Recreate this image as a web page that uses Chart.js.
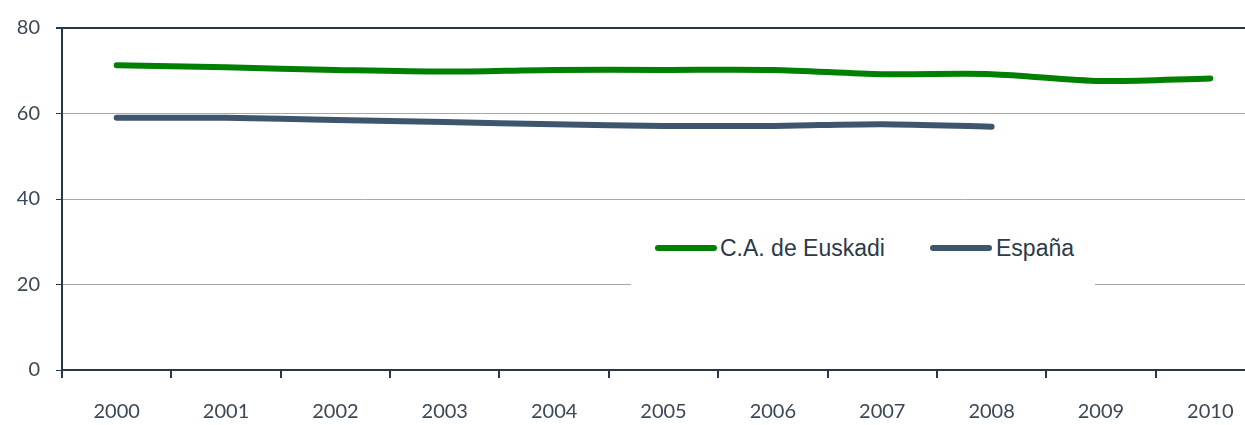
<!DOCTYPE html>
<html>
<head>
<meta charset="utf-8">
<script src="https://cdn.jsdelivr.net/npm/chart.js@4"></script>
<style>
html,body{margin:0;padding:0;background:#fff;overflow:hidden;}
#wrap{position:relative;width:1245px;height:425px;overflow:hidden;}
#box{position:absolute;left:0;top:0;width:1265px;height:425px;}
#legend{position:absolute;left:631px;top:220px;width:464px;height:68px;background:#fff;
    font-family:"Liberation Sans",Arial,sans-serif;font-size:23px;color:#2b3a48;}
.item{position:absolute;top:16px;height:30px;line-height:30px;white-space:nowrap;}
.sw{position:absolute;top:13px;height:6px;border-radius:3px;}
</style>
</head>
<body>
<div id="wrap">
  <div id="box"><canvas id="c" width="1265" height="425"></canvas></div>
  <div id="legend"></div>
</div>
<script>
const years=["2000","2001","2002","2003","2004","2005","2006","2007","2008","2009","2010"];
const euskadi=[71.3,70.8,70.2,69.8,70.2,70.2,70.2,69.2,69.2,67.6,68.2];
const espana=[59.0,59.0,58.5,58.0,57.5,57.1,57.1,57.5,56.9,null,null];
const names=["C.A. de Euskadi","España"];
const colors=["#008000","#3d566d"];

const dark="#26394a";
const font={family:"Lato, 'Open Sans', sans-serif",size:20};

new Chart(document.getElementById("c"),{
    type:"line",
    data:{
        labels:years,
        datasets:[
            {label:names[0],data:euskadi,borderColor:colors[0],borderWidth:6,tension:0.3,
             pointRadius:0,borderCapStyle:"round",borderJoinStyle:"round",fill:false},
            {label:names[1],data:espana,borderColor:colors[1],borderWidth:6,tension:0.3,
             pointRadius:0,borderCapStyle:"round",borderJoinStyle:"round",fill:false}
        ]
    },
    options:{
        responsive:false,
        animation:false,
        layout:{padding:{top:25,right:0,left:0,bottom:0}},
        plugins:{legend:{display:false},tooltip:{enabled:false}},
        scales:{
            x:{
                offset:true,
                grid:{offset:true,drawOnChartArea:false,drawTicks:true,tickLength:8,color:dark,lineWidth:2},
                border:{color:dark,width:2},
                ticks:{color:"#3a4856",font:font,padding:22,maxRotation:0,autoSkip:false},
                afterFit:s=>{s.height=55;}
            },
            y:{
                min:0,max:80,
                grid:{
                    color:c=>c.tick.value===80?dark:"#a8a8a8",
                    lineWidth:c=>c.tick.value===80?2:1,
                    tickColor:dark,tickLength:6
                },
                border:{color:dark,width:2},
                ticks:{stepSize:20,color:"#3a4856",font:font,padding:16},
                afterFit:s=>{s.width=62;}
            }
        }
    }
});

// legend as html with white box
const lg=document.getElementById("legend");
const pos=[[24,89],[299,365]];
names.forEach((n,i)=>{
    const sw=document.createElement("div");
    sw.className="sw";
    sw.style.cssText+=`left:${pos[i][0]}px;width:62px;background:${colors[i]};top:25px;`;
    lg.appendChild(sw);
    const t=document.createElement("div");
    t.className="item";
    t.style.left=pos[i][1]+"px";
    t.style.top="13px";
    t.textContent=n;
    lg.appendChild(t);
});
</script>
</body>
</html>
